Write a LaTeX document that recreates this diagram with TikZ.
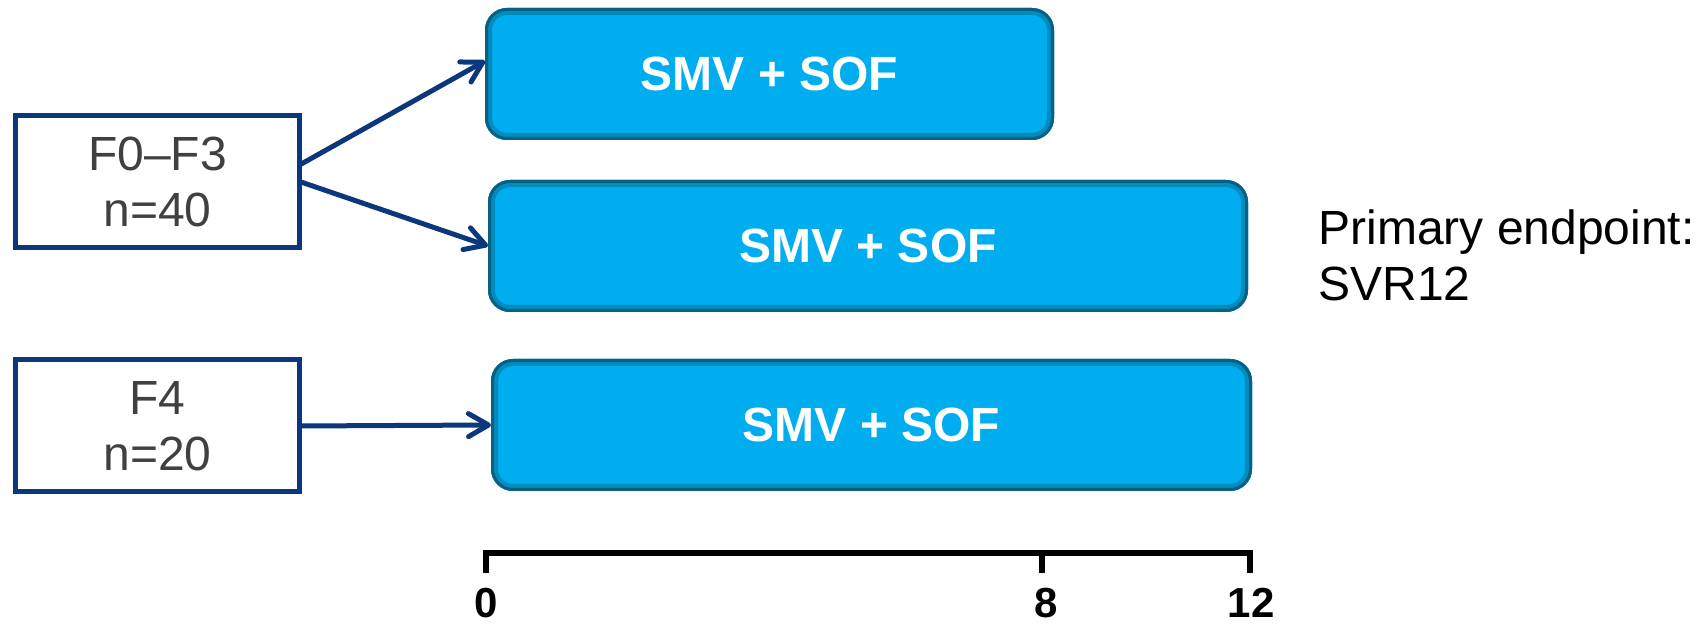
\documentclass[tikz,border=0pt]{standalone}
\usepackage{fontspec}
\setmainfont{Liberation Sans}
\usetikzlibrary{arrows.meta}
\definecolor{navy}{RGB}{11,56,124}
\definecolor{barfill}{RGB}{0,174,239}
\definecolor{baredge}{RGB}{8,96,130}
\definecolor{txtgray}{RGB}{64,64,64}
\begin{document}
\begin{tikzpicture}[x=0.5pt,y=-0.5pt,
  groupbox/.style={draw=navy, line width=2.5pt, fill=white, minimum width=142pt, minimum height=66pt,
    inner sep=0pt, outer sep=0pt, align=center, text=txtgray, font=\fontsize{24}{28}\selectfont},
  bar/.style={fill=barfill, rounded corners=11pt, minimum height=66pt, inner sep=0pt, outer sep=0pt,
    text=white, font=\bfseries\fontsize{24}{28}\selectfont},
  flow/.style={draw=navy, line width=2.5pt, line cap=round, -{Straight Barb[length=10pt,width=11.5pt,round]}},
  axisline/.style={line width=3pt, black},
  ticklabel/.style={font=\bfseries\fontsize{21}{25}\selectfont, inner sep=0pt, text=black},
  note/.style={font=\fontsize{24}{28}\selectfont, inner sep=0pt, align=left, text=black}]
\useasboundingbox (0,0) rectangle (1704,624);

% group boxes
\node[groupbox] (f03) at (157.5,181.5) {F0--F3\\n=40};
\node[groupbox] (f4) at (157.5,426) {F4\\n=20};

% bars
\node[bar, minimum width=284.5pt] (b1) at (769.5,74) {SMV + SOF};
\node[bar, minimum width=380pt] (b2) at (868,246) {SMV + SOF};
\node[bar, minimum width=380.5pt] (b3) at (871.5,425) {SMV + SOF};

\foreach \b in {b1,b2,b3}{
  \begin{scope}
    \clip[rounded corners=11pt] (\b.south west) rectangle (\b.north east);
    \draw[rounded corners=11pt, line width=7pt, baredge!45!barfill] (\b.south west) rectangle (\b.north east);
    \draw[rounded corners=11pt, line width=3pt, baredge] (\b.south west) rectangle (\b.north east);
  \end{scope}
}

% arrows
\draw[flow] ([yshift=8.25pt]f03.east) -- ([yshift=6.5pt]b1.west);
\draw[flow] (f03.east) -- (b2.west);
\draw[flow] (f4.east) -- (b3.west);

% note
\node[note, anchor=north west] (pe) at (1318,209) {Primary endpoint:\\SVR12};

% axis
\coordinate (a0) at (486,553);
\coordinate (a8) at (1042,553);
\coordinate (a12) at (1250,553);
\draw[axisline] ([yshift=-10pt]a0) -- (a0) -- (a12) -- ([yshift=-10pt]a12);
\draw[axisline] (a8) -- ([yshift=-10pt]a8);
\node[ticklabel] (l0) at (486,603) {0};
\node[ticklabel] (l8) at (1046,603) {8};
\node[ticklabel] (l12) at (1251,603) {12};
\end{tikzpicture}
\end{document}
